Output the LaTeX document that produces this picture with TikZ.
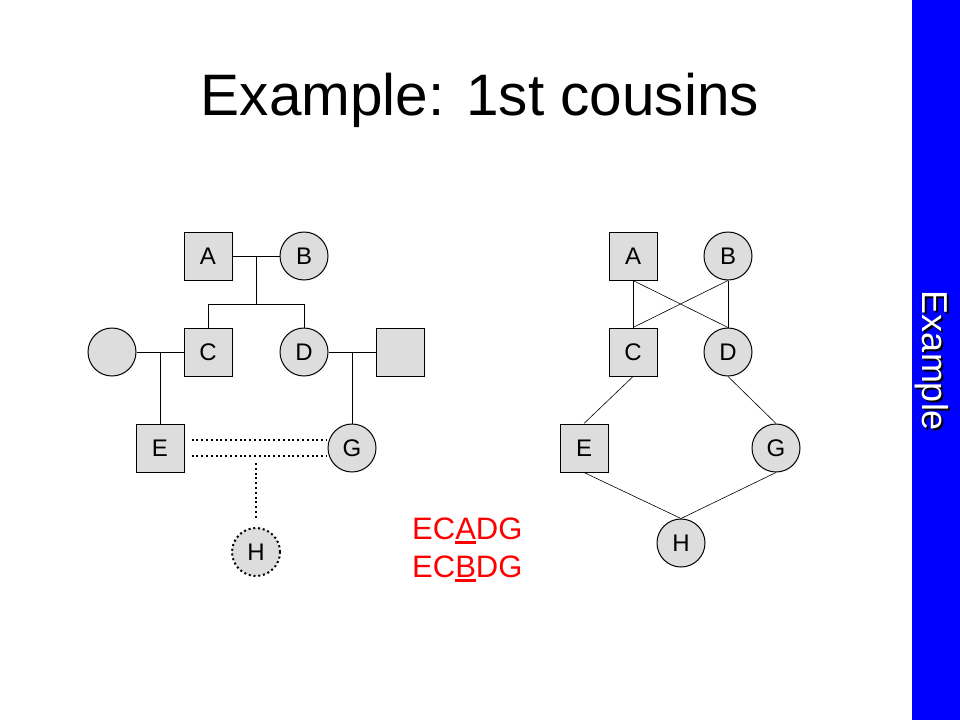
\documentclass[tikz,border=0pt]{standalone}
\usepackage{fontspec}
\setmainfont{Liberation Sans}
\usetikzlibrary{calc}
\definecolor{nodegray}{RGB}{221,221,221}
\definecolor{barblue}{RGB}{0,0,255}
\newcommand{\ulletter}[1]{\vtop{\hbox{#1}\kern2pt\hrule height 2.5pt}}

\begin{document}
\begin{tikzpicture}[x=1pt, y=-1pt,
    person/.style={draw, line width=1pt, fill=nodegray, minimum size=48pt, inner sep=0pt, font=\fontsize{24}{28}\selectfont},
    male/.style={person, rectangle},
    female/.style={person, circle},
    link/.style={line width=1pt},
    dotline/.style={line width=2pt, dash pattern=on 2pt off 2.8pt},
    arc/.style={line width=0.6pt}]
    \useasboundingbox (0,0) rectangle (960,720);
    \fill[barblue] (912,0) rectangle (960,720);
    \node (barshadow) at (934,363) [rotate=-90, black, font=\fontsize{36}{40}\selectfont] {Example};
    \node (bar) at (932,361) [rotate=-90, white, font=\fontsize{36}{40}\selectfont] {Example};
    \node (title) at (480,115) [anchor=base, font=\fontsize{58.5}{70}\selectfont] {Example: 1st cousins};

    % pedigree
    \node (A) at (208,256) [male] {A};
    \node (B) at (304,256) [female] {B};
    \node (W) at (112,352) [female] {};
    \node (C) at (208,352) [male] {C};
    \node (D) at (304,352) [female] {D};
    \node (M) at (400,352) [male] {};
    \node (E) at (160,448) [male] {E};
    \node (G) at (352,448) [female] {G};
    \node (H) at (256,552) [female, dotline] {H};
    \coordinate (mAB) at ($(A)!0.5!(B)$);
    \coordinate (mEG) at ($(E)!0.5!(G)+(0,8)$);
    \draw[link] (A) -- (B);
    \draw[link] (mAB) -- ++(0,48) -| (C);
    \draw[link] (mAB) -- ++(0,48) -| (D);
    \draw[link] (W) -- (C);
    \draw[link] ($(W)!0.5!(C)$) -- (E);
    \draw[link] (D) -- (M);
    \draw[link] ($(D)!0.5!(M)$) -- (G);
    \draw[dotline] ($(E.east)+(7,-8)$) -- ($(G.west)+(-1,-8)$);
    \draw[dotline] ($(E.east)+(7,8)$) -- ($(G.west)+(-1,8)$);
    \draw[dotline] ($(mEG)+(0,7)$) -- ($(H.north)+(0,-9)$);

    % paths
    \node (path1) at (412,539) [anchor=base west, inner sep=0pt, red, font=\fontsize{31}{37}\selectfont] {EC\ulletter{A}DG};
    \node (path2) at (412,577) [anchor=base west, inner sep=0pt, red, font=\fontsize{31}{37}\selectfont] {EC\ulletter{B}DG};

    % graph
    \node (A2) at (633,256) [male] {A};
    \node (B2) at (728,256) [female] {B};
    \node (C2) at (633,352) [male] {C};
    \node (D2) at (728,352) [female] {D};
    \node (E2) at (584,448) [male] {E};
    \node (G2) at (776,448) [female] {G};
    \node (H2) at (681,543) [female] {H};
    \foreach \u/\v in {A2/C2, A2/D2, B2/C2, B2/D2, C2/E2, D2/G2, E2/H2, G2/H2}
        \draw[arc] (\u.south) -- (\v.north);
\end{tikzpicture}
\end{document}
